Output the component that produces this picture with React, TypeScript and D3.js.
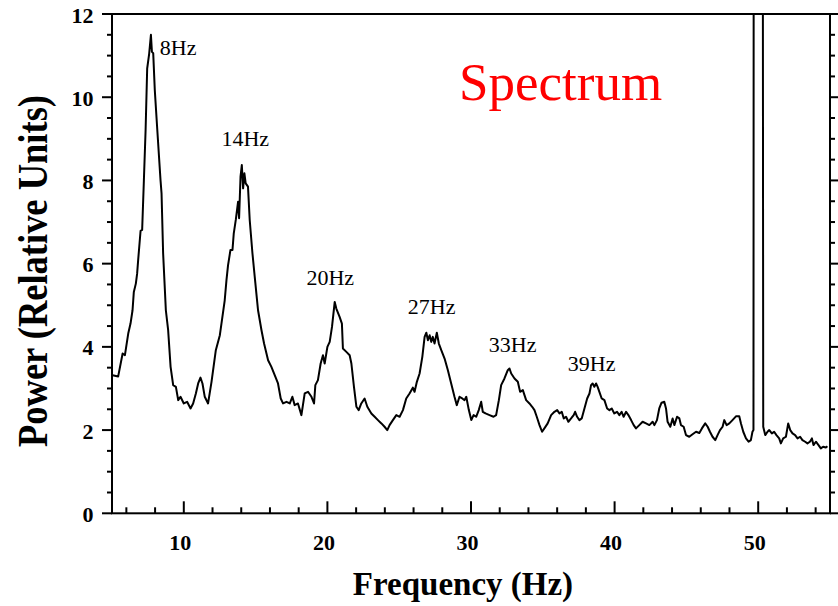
import React from 'react';
import * as d3 from 'd3';

// spectrum trace (Hz, relative power)
const freq = [
  5.04, 5.43, 5.74, 5.9, 6.13, 6.29, 6.43, 6.52, 6.66, 6.75,
  6.82, 6.99, 7.1, 7.22, 7.34, 7.45, 7.59, 7.71, 7.78, 7.87,
  7.98, 8.14, 8.38, 8.45, 8.56, 8.75, 8.91, 9.08, 9.26, 9.45,
  9.61, 9.77, 10.0, 10.23, 10.47, 10.65, 10.84, 11.0, 11.16, 11.3,
  11.46, 11.69, 11.93, 12.23, 12.51, 12.85, 12.97, 13.08, 13.25, 13.39,
  13.48, 13.62, 13.78, 13.85, 13.95, 14.04, 14.13, 14.22, 14.31, 14.47,
  14.59, 14.78, 14.94, 15.17,
  15.41, 15.59, 15.87, 16.1, 16.38, 16.56, 16.75, 16.91, 17.15, 17.38,
  17.56, 17.72, 17.95, 18.19, 18.42, 18.65, 18.89, 19.07, 19.16, 19.34,
  19.53, 19.69, 19.81, 20.0, 20.16, 20.32, 20.51, 20.62, 20.85, 21.01,
  21.08, 21.32, 21.55, 21.67, 21.85, 22.02, 22.18, 22.36, 22.59, 22.78,
  23.06, 23.29, 23.52, 23.76, 23.98, 24.17, 24.33, 24.56, 24.8, 25.03,
  25.26, 25.49, 25.72, 25.95, 26.07, 26.23, 26.42, 26.61, 26.77, 26.89,
  27.0, 27.12, 27.23, 27.34, 27.46, 27.62, 27.76, 27.93, 28.16, 28.39,
  28.62, 28.85, 29.01, 29.2, 29.39, 29.55, 29.67, 29.85, 30.02, 30.18,
  30.36, 30.54, 30.71, 30.82, 31.01, 31.29, 31.57, 31.75, 31.94, 32.1,
  32.33, 32.56, 32.68, 32.8, 33.03, 33.26, 33.42, 33.61, 33.84, 34.07,
  34.26, 34.42, 34.58, 34.77, 34.95, 35.11,
  35.34, 35.58, 35.81, 36.0, 36.16, 36.32, 36.46, 36.62, 36.78, 36.97,
  37.15, 37.25, 37.39, 37.55, 37.71, 37.9, 38.09, 38.25, 38.36, 38.47,
  38.59, 38.71, 38.82, 38.94, 39.1, 39.29, 39.48, 39.64, 39.8, 39.98,
  40.17, 40.33, 40.49, 40.63, 40.8, 40.96, 41.15, 41.33, 41.49, 41.72,
  41.95, 42.19, 42.42, 42.65, 42.77, 42.95, 43.11, 43.27, 43.46, 43.58,
  43.69, 43.88, 44.04, 44.16, 44.35, 44.51, 44.62, 44.81, 44.97, 45.2,
  45.43, 45.67, 45.9, 46.08, 46.31, 46.48, 46.64, 46.82, 47.01, 47.17,
  47.34, 47.52, 47.64, 47.8, 47.99, 48.21, 48.45, 48.68, 48.8, 48.96,
  49.15, 49.33, 49.49, 49.6, 49.67, 49.72, 50.26, 50.35, 50.49, 50.65,
  50.77, 50.95, 51.11, 51.27, 51.46, 51.58, 51.74, 51.93, 52.09, 52.23,
  52.39, 52.57, 52.74, 52.92, 53.08, 53.27, 53.43, 53.6, 53.74, 53.85,
  54.02, 54.2, 54.36, 54.52, 54.71, 54.82,
];

const power = [
  3.32, 3.29, 3.84, 3.8, 4.32, 4.56, 4.88, 5.32, 5.52, 5.76,
  6.08, 6.79, 6.81, 8.0, 9.21, 10.69, 11.05, 11.5, 11.09, 11.06,
  10.17, 9.29, 8.0, 7.69, 6.25, 4.88, 4.4, 3.52, 3.08, 3.04,
  2.72, 2.8, 2.64, 2.68, 2.52, 2.64, 2.88, 3.12, 3.26, 3.12,
  2.8, 2.64, 3.16, 3.92, 4.28, 5.12, 5.6, 5.96, 6.33, 6.33,
  6.73, 7.05, 7.49, 7.09, 8.09, 8.37, 7.81, 8.17, 7.93, 7.85,
  7.05, 6.25, 5.68, 4.88,
  4.4, 4.08, 3.68, 3.52, 3.28, 3.12, 2.76, 2.64, 2.68, 2.64,
  2.8, 2.6, 2.64, 2.36, 2.88, 2.92, 2.8, 2.64, 3.08, 3.2,
  3.6, 3.8, 3.6, 4.0, 4.12, 4.48, 5.08, 4.92, 4.72, 4.56,
  3.96, 3.88, 3.8, 3.6, 3.04, 2.56, 2.48, 2.64, 2.76, 2.56,
  2.4, 2.32, 2.24, 2.16, 2.08, 2.0, 2.12, 2.24, 2.36, 2.32,
  2.48, 2.76, 2.88, 3.02, 2.92, 3.16, 3.36, 3.76, 4.24, 4.34,
  4.16, 4.28, 4.12, 4.24, 4.08, 4.34, 4.08, 3.92, 3.72, 3.44,
  3.12, 2.8, 2.6, 2.8, 2.76, 2.72, 2.8, 2.48, 2.24, 2.36,
  2.32, 2.48, 2.68, 2.44, 2.4, 2.36, 2.32, 2.36, 2.72, 3.08,
  3.24, 3.44, 3.48, 3.36, 3.24, 3.16, 2.92, 2.96, 2.72, 2.64,
  2.56, 2.48, 2.32, 2.12, 1.96, 2.04,
  2.16, 2.36, 2.44, 2.48, 2.4, 2.44, 2.28, 2.32, 2.2, 2.28,
  2.36, 2.44, 2.32, 2.24, 2.28, 2.52, 2.76, 2.88, 3.08, 3.12,
  3.04, 3.12, 3.04, 2.92, 2.76, 2.72, 2.52, 2.48, 2.52, 2.4,
  2.44, 2.36, 2.44, 2.32, 2.44, 2.36, 2.24, 2.12, 2.04, 2.12,
  2.2, 2.16, 2.12, 2.2, 2.12, 2.24, 2.52, 2.66, 2.68, 2.52,
  2.2, 2.08, 2.28, 2.12, 2.32, 2.28, 2.12, 2.08, 1.88, 1.84,
  1.9, 1.96, 1.93, 2.04, 2.16, 2.08, 1.96, 1.84, 1.76, 1.88,
  2.0, 2.08, 2.24, 2.12, 2.16, 2.24, 2.33, 2.33, 2.16, 1.96,
  1.8, 1.72, 1.76, 1.96, 2.0, 40, 40, 2.08, 1.88, 1.96,
  2.0, 1.92, 1.96, 1.88, 1.8, 1.68, 1.8, 1.84, 2.16, 2.0,
  1.92, 1.88, 1.8, 1.84, 1.76, 1.72, 1.68, 1.72, 1.8, 1.64,
  1.72, 1.64, 1.56, 1.6, 1.58, 1.61,
];

const peakLabels = ['8Hz', '14Hz', '20Hz', '27Hz', '33Hz', '39Hz'];
const peakLabelFreq = [8.33, 12.62, 18.54, 25.6, 31.24, 36.74];
const peakLabelPower = [11.01, 8.83, 5.48, 4.8, 3.88, 3.42];

const xTickValues = [10, 20, 30, 40, 50];
const yTickValues = [0, 2, 4, 6, 8, 10, 12];

const serif = '"Liberation Serif", "Times New Roman", serif';

const App: React.FC = () => {
  const left = 112, right = 830, top = 14, bottom = 513.3;

  const x = d3.scaleLinear().domain([5, 55]).range([left, right]);
  const y = d3.scaleLinear().domain([0, 12]).range([bottom, top]);

  const pts = freq.map((f, i) => [f, power[i]] as [number, number]);
  const path = d3.line<[number, number]>()
    .x(d => x(d[0]))
    .y(d => y(d[1]))(pts) || '';

  // minor ticks: every 2 Hz on x, every 0.5 on y
  const xMinor = d3.range(6, 55, 2).filter(v => v % 10 !== 0);
  const yMinor = d3.range(0.5, 12, 0.5).filter(v => v % 2 !== 0);

  return (
    <svg width={838} height={606} style={{ position: 'absolute', left: 0, top: 0, background: '#fff' }}>
      <defs>
        <clipPath id="plotClip">
          <rect x={left} y={top} width={right - left} height={bottom - top} />
        </clipPath>
      </defs>

      <path d={path} fill="none" stroke="#000" strokeWidth={2}
        strokeLinejoin="round" clipPath="url(#plotClip)" />

      {/* frame */}
      <rect x={left} y={top} width={right - left} height={bottom - top}
        fill="none" stroke="#000" strokeWidth={2} />

      {/* bottom ticks, pointing in */}
      {xTickValues.map(v => (
        <line key={'xM' + v} x1={x(v)} x2={x(v)} y1={bottom} y2={bottom - 12} stroke="#000" strokeWidth={2} />
      ))}
      {xMinor.map(v => (
        <line key={'xm' + v} x1={x(v)} x2={x(v)} y1={bottom} y2={bottom - 6} stroke="#000" strokeWidth={2} />
      ))}

      {/* left and right ticks, pointing out */}
      {yTickValues.map(v => (
        <g key={'yM' + v}>
          <line x1={left - 10} x2={left} y1={y(v)} y2={y(v)} stroke="#000" strokeWidth={2} />
          <line x1={right} x2={right + 10} y1={y(v)} y2={y(v)} stroke="#000" strokeWidth={2} />
        </g>
      ))}
      {yMinor.map(v => (
        <g key={'ym' + v}>
          <line x1={left - 5} x2={left} y1={y(v)} y2={y(v)} stroke="#000" strokeWidth={2} />
          <line x1={right} x2={right + 5} y1={y(v)} y2={y(v)} stroke="#000" strokeWidth={2} />
        </g>
      ))}

      {/* tick labels */}
      <g fontFamily={serif} fontWeight="bold" fontSize={22} fill="#000">
        {xTickValues.map(v => (
          <text key={'xl' + v} x={x(v) - 3.5} y={550} textAnchor="middle">{v}</text>
        ))}
        {yTickValues.map(v => (
          <text key={'yl' + v} x={93.5} y={y(v) + 8.5} textAnchor="end">{v}</text>
        ))}
      </g>

      {/* axis titles */}
      <text x={463} y={595} textAnchor="middle" fontFamily={serif} fontWeight="bold" fontSize={33}>
        Frequency (Hz)
      </text>
      <text transform="translate(47,271) rotate(-90)" textAnchor="middle" fontFamily={serif}
        fontWeight="bold" fontSize={42} textLength={352} lengthAdjust="spacingAndGlyphs">
        Power (Relative Units)
      </text>

      {/* peak annotations */}
      <g fontFamily={serif} fontSize={22} fill="#000">
        {peakLabels.map((t, i) => (
          <text key={t} x={x(peakLabelFreq[i])} y={y(peakLabelPower[i])}>{t}</text>
        ))}
      </g>

      <text x={459} y={100} fontFamily={serif} fontSize={53} fill="#ff0000">Spectrum</text>
    </svg>
  );
};

export default App;
